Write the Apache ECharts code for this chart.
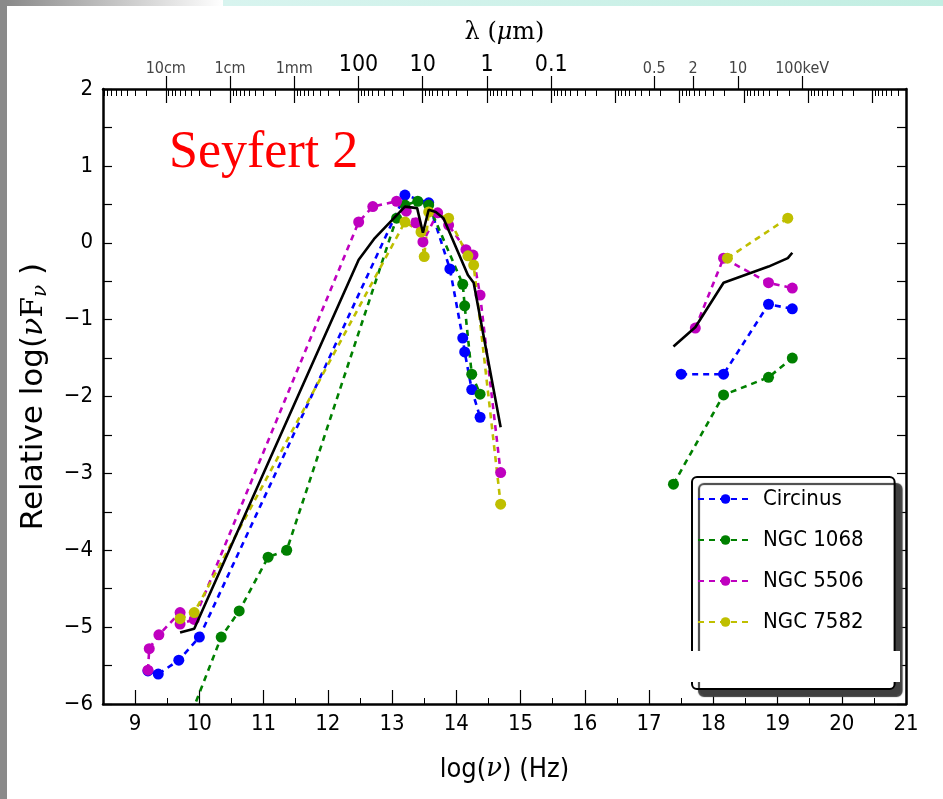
<!DOCTYPE html>
<html>
<head>
<meta charset="utf-8">
<script src="https://cdn.jsdelivr.net/npm/echarts@6/dist/echarts.min.js"></script>
<style>html,body{margin:0;padding:0;background:#fff}#c{width:943px;height:799px}</style>
</head>
<body>
<div id="c"></div>
<script>
// ---------- data ----------
const seriesNames = ['Circinus', 'NGC 1068', 'NGC 5506', 'NGC 7582'];
const circinusIR = [[9.20,-5.57],[9.36,-5.61],[9.68,-5.43],[10.00,-5.13],[13.20,0.62],[13.57,0.52],[13.90,-0.34],[14.10,-1.24],[14.13,-1.42],[14.24,-1.91],[14.37,-2.27]];
const circinusX = [[17.50,-1.71],[18.16,-1.71],[18.86,-0.80],[19.23,-0.86]];
const ngc1068IR = [[9.70,-6.50],[10.34,-5.13],[10.62,-4.79],[11.07,-4.09],[11.36,-4.00],[13.07,0.32],[13.20,0.49],[13.40,0.54],[13.57,0.49],[14.10,-0.54],[14.13,-0.82],[14.24,-1.71],[14.37,-1.97]];
const ngc1068X = [[17.38,-3.14],[18.16,-1.98],[18.86,-1.75],[19.23,-1.50]];
const ngc5506IR = [[9.20,-5.56],[9.22,-5.28],[9.37,-5.10],[9.70,-4.81],[9.70,-4.96],[9.92,-4.90],[12.48,0.27],[12.70,0.47],[13.07,0.54],[13.22,0.41],[13.37,0.26],[13.48,0.01],[13.71,0.39],[13.88,0.23],[14.15,-0.09],[14.26,-0.16],[14.37,-0.68],[14.69,-2.99]];
const ngc5506X = [[17.72,-1.11],[18.16,-0.20],[18.86,-0.52],[19.23,-0.59]];
const ngc7582IR = [[9.70,-4.89],[9.92,-4.81],[13.20,0.27],[13.45,0.14],[13.50,-0.18],[13.57,0.40],[13.88,0.32],[14.18,-0.17],[14.27,-0.29],[14.69,-3.40]];
const ngc7582X = [[18.22,-0.20],[19.16,0.32]];
const modelIR = [[9.70,-5.07],[9.92,-5.02],[12.48,-0.22],[12.72,0.05],[13.20,0.47],[13.39,0.45],[13.48,0.13],[13.57,0.43],[13.68,0.40],[13.80,0.32],[14.18,-0.42],[14.27,-0.52],[14.69,-2.40]];
const modelX = [[17.38,-1.35],[17.72,-1.10],[18.16,-0.52],[18.86,-0.31],[19.16,-0.20],[19.23,-0.13]];

// ---------- ticks ----------
const bottomTicks = [9,10,11,12,13,14,15,16,17,18,19,20,21];
const bottomMinorTicks = [9.5,10.5,11.5,12.5,13.5,14.5,15.5,16.5,17.5,18.5,19.5,20.5];
const topTickValues = [9.477,10.477,11.477,12.477,13.477,14.477,15.477,17.082,17.684,18.383,19.383];
const topTickLabels = ['10cm','1cm','1mm','100','10','1','0.1','0.5','2','10','100keV'];
const topTickBig = [false,false,false,true,true,true,true,false,false,false,false];
const wavelengthDecades = [8.477,9.477,10.477,11.477,12.477,13.477,14.477,15.477,16.477,17.477,18.477,19.477,20.477];

// log minor ticks for wavelength axis (2..9 multiples of each decade)
const topMinor = [];
wavelengthDecades.forEach(d => { for (let m = 2; m <= 9; m++) { const v = d + 1 - Math.log10(m); if (v > 8.5 && v < 21) topMinor.push(+v.toFixed(4)); } });

const XMIN = 8.5, XMAX = 21, YMIN = -6, YMAX = 2;
const FONT = "'DejaVu Sans Condensed', 'DejaVu Sans', sans-serif";
const SERIF = "'DejaVu Serif', 'Liberation Serif', serif";
const colors = ['#0000ff', '#008000', '#bf00bf', '#bfbf00'];

function dotted(name, data, color) {
  return {
    name: name, type: 'line', data: data, symbol: 'circle', symbolSize: 11,
    itemStyle: { color: color }, lineStyle: { color: color, width: 2.6, type: [6, 5] },
    clip: true, z: 3, emphasis: { disabled: true }
  };
}
function solid(data) {
  return {
    name: 'model', type: 'line', data: data, symbol: 'none',
    lineStyle: { color: '#000', width: 2.6 }, clip: true, z: 5, emphasis: { disabled: true }
  };
}
function baseX(extra) {
  return Object.assign({
    type: 'value', min: XMIN, max: XMAX, gridIndex: 0,
    splitLine: { show: false }, axisLine: { show: false, onZero: false }, axisLabel: { show: false }, axisTick: { show: false }
  }, extra);
}

const chart = echarts.init(document.getElementById('c'), null, { renderer: 'canvas' });
chart.setOption({
  animation: false,
  backgroundColor: '#ffffff',
  grid: { left: 103, right: 37, top: 89, bottom: 95, show: false },
  xAxis: [
    baseX({
      position: 'bottom',
      name: '{a|log(}{g|ν}{a|) (Hz)}', nameLocation: 'middle', nameGap: 52,
      nameTextStyle: { rich: {
        a: { fontFamily: FONT, fontSize: 27, color: '#000' },
        g: { fontFamily: SERIF, fontSize: 26, fontStyle: 'italic', color: '#000' }
      } },
      axisLine: { show: true, onZero: false, lineStyle: { color: '#000', width: 2.5 } },
      axisTick: { show: true, inside: true, length: 14, customValues: bottomTicks, lineStyle: { color: '#000', width: 1.2 } },
      axisLabel: { show: true, customValues: bottomTicks, fontFamily: FONT, fontSize: 22, color: '#000', margin: 9 }
    }),
    baseX({
      position: 'bottom',
      axisTick: { show: true, inside: true, length: 6, customValues: bottomMinorTicks, lineStyle: { color: '#000', width: 1 } }
    }),
    baseX({
      position: 'top',
      name: '{a|λ (}{i|μ}{a|m)}', nameLocation: 'middle', nameGap: 44,
      nameTextStyle: { rich: {
        a: { fontFamily: SERIF, fontSize: 24, color: '#000' },
        i: { fontFamily: SERIF, fontSize: 24, fontStyle: 'italic', color: '#000' }
      } },
      axisLine: { show: true, onZero: false, lineStyle: { color: '#000', width: 2.5 } },
      axisTick: { show: true, inside: false, length: 13, customValues: topTickValues, lineStyle: { color: '#000', width: 1.2 } },
      axisLabel: {
        show: true, customValues: topTickValues, margin: 12,
        formatter: function (v) {
          for (let i = 0; i < topTickValues.length; i++) {
            if (Math.abs(v - topTickValues[i]) < 1e-6) return topTickBig[i] ? '{b|' + topTickLabels[i] + '}' : '{s|' + topTickLabels[i] + '}';
          }
          return '';
        },
        rich: {
          b: { fontFamily: FONT, fontSize: 23, color: '#000' },
          s: { fontFamily: FONT, fontSize: 16, color: '#444' }
        }
      }
    }),
    baseX({
      position: 'top',
      axisTick: { show: true, inside: true, length: 14, customValues: wavelengthDecades.filter(v => v > XMIN), lineStyle: { color: '#000', width: 1.2 } }
    }),
    baseX({
      position: 'top',
      axisTick: { show: true, inside: true, length: 7, customValues: topMinor, lineStyle: { color: '#000', width: 1 } }
    })
  ],
  yAxis: [
    {
      type: 'value', min: YMIN, max: YMAX, interval: 0.5, position: 'left',
      name: '{a|Relative log(}{g|ν}{f|F}{sub|ν}{a| )}', nameLocation: 'middle', nameGap: 52,
      nameTextStyle: { rich: {
        a: { fontFamily: "'DejaVu Sans', sans-serif", fontSize: 31, color: '#000' },
        g: { fontFamily: SERIF, fontSize: 30, fontStyle: 'italic', color: '#000' },
        f: { fontFamily: SERIF, fontSize: 30, color: '#000' },
        sub: { fontFamily: SERIF, fontSize: 20, fontStyle: 'italic', color: '#000', padding: [14, 0, 0, 0] }
      } },
      splitLine: { show: false },
      axisLine: { show: true, onZero: false, lineStyle: { color: '#000', width: 2.5 } },
      axisTick: { show: true, inside: true, length: 9, lineStyle: { color: '#000', width: 1.2 } },
      axisLabel: {
        fontFamily: FONT, fontSize: 22, color: '#000', margin: 10, showMinLabel: true, showMaxLabel: true,
        formatter: function (v) { return Number.isInteger(v) ? (v < 0 ? '\u2212' + Math.abs(v) : String(v)) : ''; }
      }
    },
    {
      type: 'value', min: YMIN, max: YMAX, interval: 0.5, position: 'right',
      splitLine: { show: false },
      axisLine: { show: true, onZero: false, lineStyle: { color: '#000', width: 2.5 } },
      axisTick: { show: true, inside: true, length: 9, lineStyle: { color: '#000', width: 1.2 } },
      axisLabel: { show: false }
    }
  ],
  legend: {
    data: seriesNames, orient: 'vertical', left: 692, top: 477,
    padding: [11, 31, 56, 5], itemGap: 19, itemWidth: 55, itemHeight: 12,
    backgroundColor: '#fff', borderColor: '#000', borderWidth: 2, borderRadius: 5,
    shadowColor: '#404040', shadowBlur: 1, shadowOffsetX: 7, shadowOffsetY: 7,
    textStyle: { fontFamily: FONT, fontSize: 22, color: '#000', padding: [0, 0, 0, 5] },
    selectedMode: false
  },
  graphic: [
    { type: 'rect', shape: { x: 0, y: 0, width: 7, height: 799 }, style: { fill: '#8a8a8a' }, z: 1 },
    { type: 'rect', shape: { x: 7, y: 0, width: 216, height: 6 }, style: { fill: new echarts.graphic.LinearGradient(0, 0, 1, 0, [{ offset: 0, color: '#8a8a8a' }, { offset: 1, color: '#ffffff' }]) }, z: 1 },
    { type: 'rect', shape: { x: 223, y: 0, width: 720, height: 6 }, style: { fill: new echarts.graphic.LinearGradient(0, 0, 1, 0, [{ offset: 0, color: '#d8f4ef' }, { offset: 1, color: '#c2eee2' }]) }, z: 1 },
    { type: 'text', left: 169, top: 127, style: { text: 'Seyfert 2', fontFamily: "'Liberation Serif', 'Times New Roman', serif", fontSize: 52, fill: '#ff0000' }, z: 10 },
    { type: 'rect', shape: { x: 690, y: 651, width: 210, height: 31 }, style: { fill: '#ffffff' }, z: 100 }
  ],
  series: [
    dotted('Circinus', circinusIR, colors[0]),
    dotted('Circinus', circinusX, colors[0]),
    dotted('NGC 1068', ngc1068IR, colors[1]),
    dotted('NGC 1068', ngc1068X, colors[1]),
    dotted('NGC 5506', ngc5506IR, colors[2]),
    dotted('NGC 5506', ngc5506X, colors[2]),
    dotted('NGC 7582', ngc7582IR, colors[3]),
    dotted('NGC 7582', ngc7582X, colors[3]),
    solid(modelIR),
    solid(modelX)
  ]
});
</script>
</body>
</html>
